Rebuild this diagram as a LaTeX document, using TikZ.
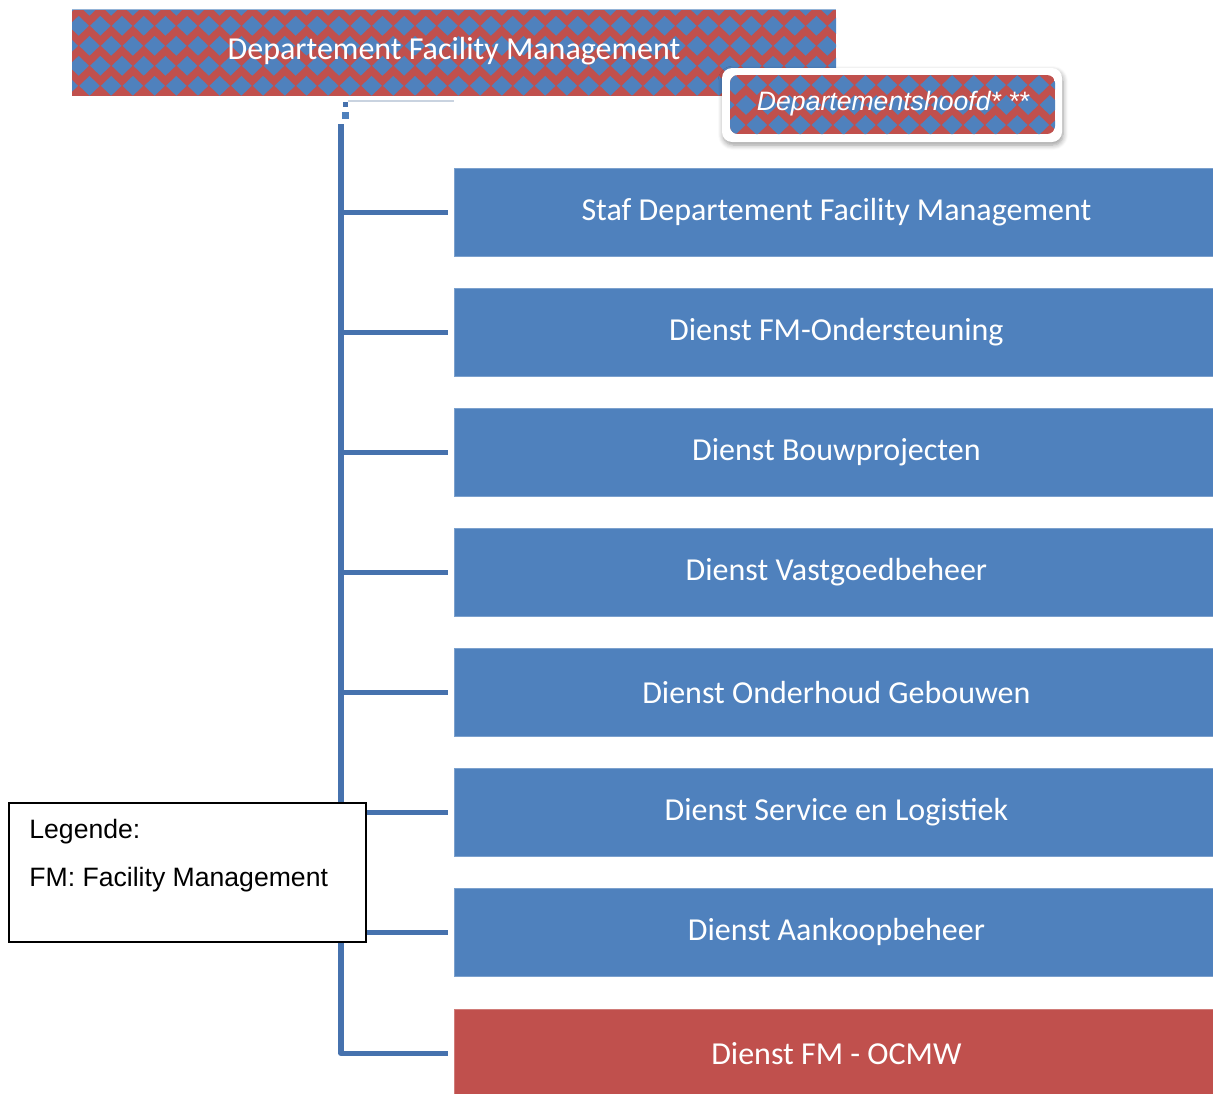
\documentclass[tikz,border=0pt]{standalone}
\usepackage{fontspec}
\setmainfont{Carlito}
\newfontfamily\arialfont{Liberation Sans}
\usetikzlibrary{shadows.blur}
\definecolor{boxblue}{HTML}{4F81BD}
\definecolor{boxred}{HTML}{C0504D}
\definecolor{linkblue}{HTML}{4672AE}
\definecolor{paleline}{HTML}{C9D3E0}
% #1,#2,#3,#4: rectangle; #5,#6: first diamond centre; #7: horizontal period; #8: row spacing
\newcommand\diamondpattern[8]{%
  \fill[boxred] (#1,#2) rectangle (#3,#4);
  \foreach \j in {0,...,4} {
    \foreach \i in {0,...,40} {
      \pgfmathsetmacro\cx{#5+#7*\i+mod(\j,2)*#7/2}
      \pgfmathsetmacro\cy{#6+#8*\j}
      \fill[boxblue] (\cx-10.3,\cy) -- (\cx,\cy-9.9) -- (\cx+10.3,\cy) -- (\cx,\cy+9.9) -- cycle;
    }
  }%
}
\tikzset{
  unitbox/.style={fill=boxblue, draw=boxblue!75!white, line width=0.4pt,
    minimum width=382pt, minimum height=44pt, inner sep=0pt, anchor=north west,
    text=white, font=\fontsize{16}{19}\selectfont},
  redbox/.style={unitbox, fill=boxred, draw=boxred!75!white},
  link/.style={draw=linkblue, line width=2.7pt},
  legendtext/.style={anchor=base west, inner sep=0pt, font=\arialfont\fontsize{13.3}{16}\selectfont}
}
\begin{document}
\begin{tikzpicture}[x=0.5pt,y=-0.5pt]
\useasboundingbox (0,0) rectangle (1213,1093);
% top banner
\begin{scope}
  \clip (72,9) rectangle (836,96);
  \diamondpattern{72}{9}{836}{96}{67.8}{5.8}{21.7}{20}
\end{scope}
\draw[boxblue!60!white, line width=0.5pt] (72,9) -- (836,9);
\node[text=white, font=\fontsize{16}{19}\selectfont, inner sep=0pt] (banner) at (454,51) {Departement Facility Management};
% head box
\node[draw=none, fill=white, rounded corners=5pt, minimum width=170pt, minimum height=37pt,
      blur shadow={shadow xshift=0.5pt, shadow yshift=-1.5pt, shadow blur steps=6, shadow blur radius=2.5pt, shadow opacity=40}] (hoofdframe) at (892,105) {};
\begin{scope}
  \clip[rounded corners=4pt] (730,75) rectangle (1055,134);
  \diamondpattern{730}{75}{1055}{134}{724.3}{65}{21.7}{20}
\end{scope}
\node[text=white, font=\arialfont\itshape\fontsize{13.3}{16}\selectfont, inner sep=0pt] (hoofd) at (893,104) {Departementshoofd* **};
% small connector marks
\draw[paleline, line width=0.6pt] (348,101) -- (454,101);
\fill[linkblue] (343,102) rectangle (348,107);
\fill[boxblue] (342,112) rectangle (349,119);
\coordinate (top) at (341,124);
% boxes
\node[unitbox] (b1) at (454,168) {Staf Departement Facility Management};
\node[unitbox] (b2) at (454,288) {Dienst FM-Ondersteuning};
\node[unitbox] (b3) at (454,408) {Dienst Bouwprojecten};
\node[unitbox] (b4) at (454,528) {Dienst Vastgoedbeheer};
\node[unitbox] (b5) at (454,648) {Dienst Onderhoud Gebouwen};
\node[unitbox] (b6) at (454,768) {Dienst Service en Logistiek};
\node[unitbox] (b7) at (454,888) {Dienst Aankoopbeheer};
\node[redbox] (b8) at (454,1009) {Dienst FM - OCMW};
% connectors
\draw[link, line join=round] (top) |- ([xshift=-3pt]b8.west);
\foreach \b in {b1,b2,b3,b4,b5,b6,b7} {
  \draw[link] (top |- \b.west) -- ([xshift=-3pt]\b.west);
}
% legend
\node[draw=black, fill=white, line width=1pt, minimum width=178.5pt, minimum height=69.5pt,
      inner sep=0pt, anchor=north west] (legend) at (8,802) {};
\node[legendtext] (leg1) at (29,838) {Legende:};
\node[legendtext] (leg2) at (29,886) {FM: Facility Management};
\end{tikzpicture}
\end{document}
